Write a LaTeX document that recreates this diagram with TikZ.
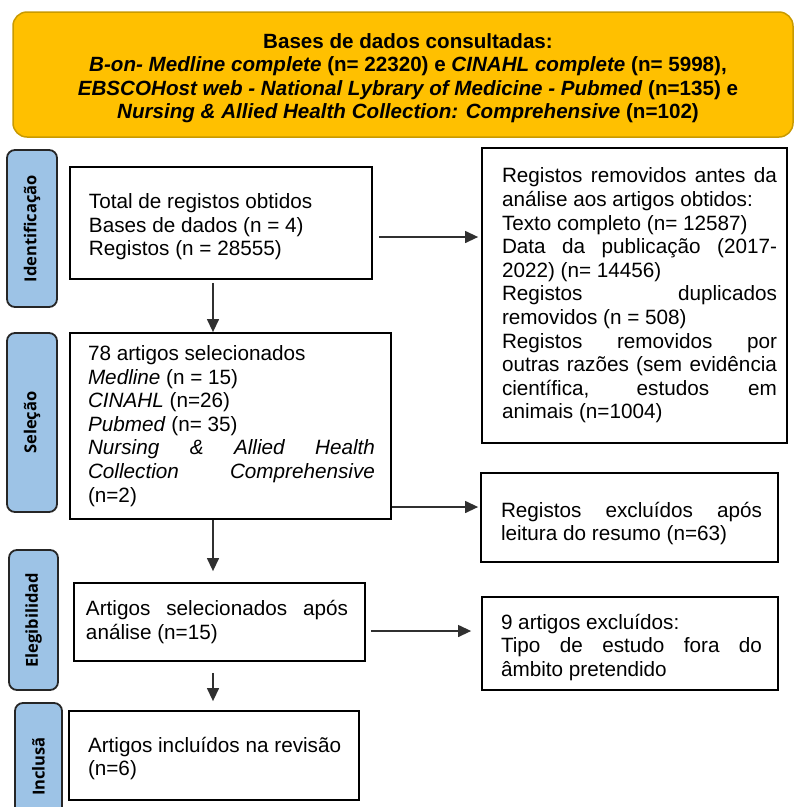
\documentclass[tikz,border=0pt]{standalone}
\usepackage{fontspec}
\setmainfont{Liberation Sans}
\newfontfamily\lblfont{Open Sans}
\usetikzlibrary{arrows.meta,calc}
\definecolor{hdrfill}{HTML}{FFC000}
\definecolor{hdrdraw}{HTML}{C99A00}
\definecolor{lblfill}{HTML}{9DC3E6}
\definecolor{lbldraw}{HTML}{262626}
\definecolor{arrcol}{HTML}{303030}
\newdimen\bxw \newdimen\bxl \newdimen\bxr
\newcommand\bx[3]{\bxw=#1pt\relax\bxl=#2pt\relax\bxr=#3pt\relax}
\newcommand\nl[1]{\hbox to\bxw{\hskip\bxl\relax #1\hfil}}
\newcommand\jl[1]{\hbox to\bxw{\hskip\bxl\relax{\spaceskip=.278em plus 1fil\relax #1}\hskip\bxr\relax}}
\newcommand\bodyfont{\fontsize{20.7}{23.6}\selectfont}
\begin{document}
\begin{tikzpicture}[x=1pt,y=-1pt,
  hdr/.style={draw=hdrdraw,fill=hdrfill,line width=1.5pt,rounded corners=14pt,
    minimum width=780pt,minimum height=125pt,inner sep=0pt},
  hdrtext/.style={align=center,inner sep=0pt,
    font=\fontsize{20.6}{23.4}\selectfont\bfseries},
  lbl/.style={draw=lbldraw,fill=lblfill,line width=1.8pt,rounded corners=8pt,
    rotate=90,inner sep=0pt,font=\lblfont\bfseries\fontsize{16.5}{18}\selectfont},
  box/.style={draw=black,line width=1.8pt,fill=white,inner sep=0pt,font=\bodyfont},
  arr/.style={draw=arrcol,line width=1.3pt,-{Triangle[length=13pt,width=12pt]}}
]
\useasboundingbox (0,0) rectangle (795,807);

\node[hdr] (hdr) at (403,74.5) {};
\node[hdrtext] (hdrtxt) at (408,78) {Bases de dados consultadas:\\
\textit{B-on- Medline complete} (n= 22320) e \textit{CINAHL complete} (n= 5998),\\
\textit{EBSCOHost web - National Lybrary of Medicine - Pubmed} (n=135) e\\
\textit{Nursing \& Allied Health Collection: Comprehensive} (n=102)};

% side labels
\node[lbl,minimum width=157pt,minimum height=50pt] (l1) at (32,228.5) {Identificação};
\node[lbl,minimum width=179pt,minimum height=50pt] (l2) at (32,422.5) {Seleção};
\node[lbl,minimum width=140pt,minimum height=49pt] (l3) at (33.5,620) {Elegibilidad};
\node[lbl,minimum width=127pt,minimum height=47pt] (l4) at (38.5,766.5) {Inclusã};

% main boxes
\node[box,minimum width=302pt,minimum height=112pt] (b1) at (221,223)
{\vbox{\bx{302}{19}{19}\kern8pt
\nl{Total de registos obtidos}\nl{Bases de dados (n = 4)}\nl{Registos (n = 28555)}}};

\node[box,minimum width=321pt,minimum height=186pt] (b2) at (230.5,426)
{\vbox{\bx{321}{18}{16}
\nl{78 artigos selecionados}\nl{\textit{Medline} (n = 15)}\nl{\textit{CINAHL} (n=26)}\nl{\textit{Pubmed} (n= 35)}%
\jl{\textit{Nursing \& Allied Health}}\jl{\textit{Collection Comprehensive}}\nl{(n=2)}}};

\node[box,minimum width=291pt,minimum height=78pt] (b3) at (219.5,622)
{\vbox{\bx{291}{12}{17}\jl{Artigos selecionados após}\nl{análise (n=15)}}};

\node[box,minimum width=290pt,minimum height=89pt] (b4) at (214,755.5)
{\vbox{\bx{290}{19}{6}\kern6pt\nl{Artigos incluídos na revisão}\nl{(n=6)}}};

% right boxes
\node[box,minimum width=305pt,minimum height=295pt] (r1) at (634.5,295.5)
{\vbox{\bx{305}{20}{10}
\jl{Registos removidos antes da}\nl{análise aos artigos obtidos:}\nl{Texto completo (n= 12587)}%
\jl{Data da publicação (2017-}\nl{2022) (n= 14456)}%
\jl{Registos duplicados}\nl{removidos (n = 508)}%
\jl{Registos removidos por}\jl{outras razões (sem evidência}\jl{científica, estudos em}\nl{animais (n=1004)}}};

\node[box,minimum width=297pt,minimum height=89pt] (r2) at (629.5,517.5)
{\vbox{\bx{297}{20}{16}\kern12pt\jl{Registos excluídos após}\nl{leitura do resumo (n=63)}}};

\node[box,minimum width=296pt,minimum height=93pt] (r3) at (630,643.5)
{\vbox{\bx{296}{19}{16}\kern8pt\nl{9 artigos excluídos:}\jl{Tipo de estudo fora do}\nl{âmbito pretendido}}};

% connectors
\draw[arr,shorten <=6pt,shorten >=3pt] ([yshift=-14pt]b1.east) coordinate (s1) -- (s1 -| r1.west);
\draw[arr,shorten <=3pt] ([xshift=-8pt]b1.south) coordinate (s2) -- (s2 |- b2.north);
\draw[arr,shorten >=2pt] ([yshift=-81pt]b2.east) coordinate (s3) -- (s3 -| r2.west);
\draw[arr,shorten >=11pt] ([xshift=-17.5pt]b2.south) coordinate (s4) -- (s4 |- b3.north);
\draw[arr,shorten <=5pt,shorten >=10pt] ([yshift=-9pt]b3.east) coordinate (s5) -- (s5 -| r3.west);
\draw[arr,shorten <=11pt,shorten >=9pt] ([xshift=-6.5pt]b3.south) coordinate (s6) -- (s6 |- b4.north);
\end{tikzpicture}
\end{document}
